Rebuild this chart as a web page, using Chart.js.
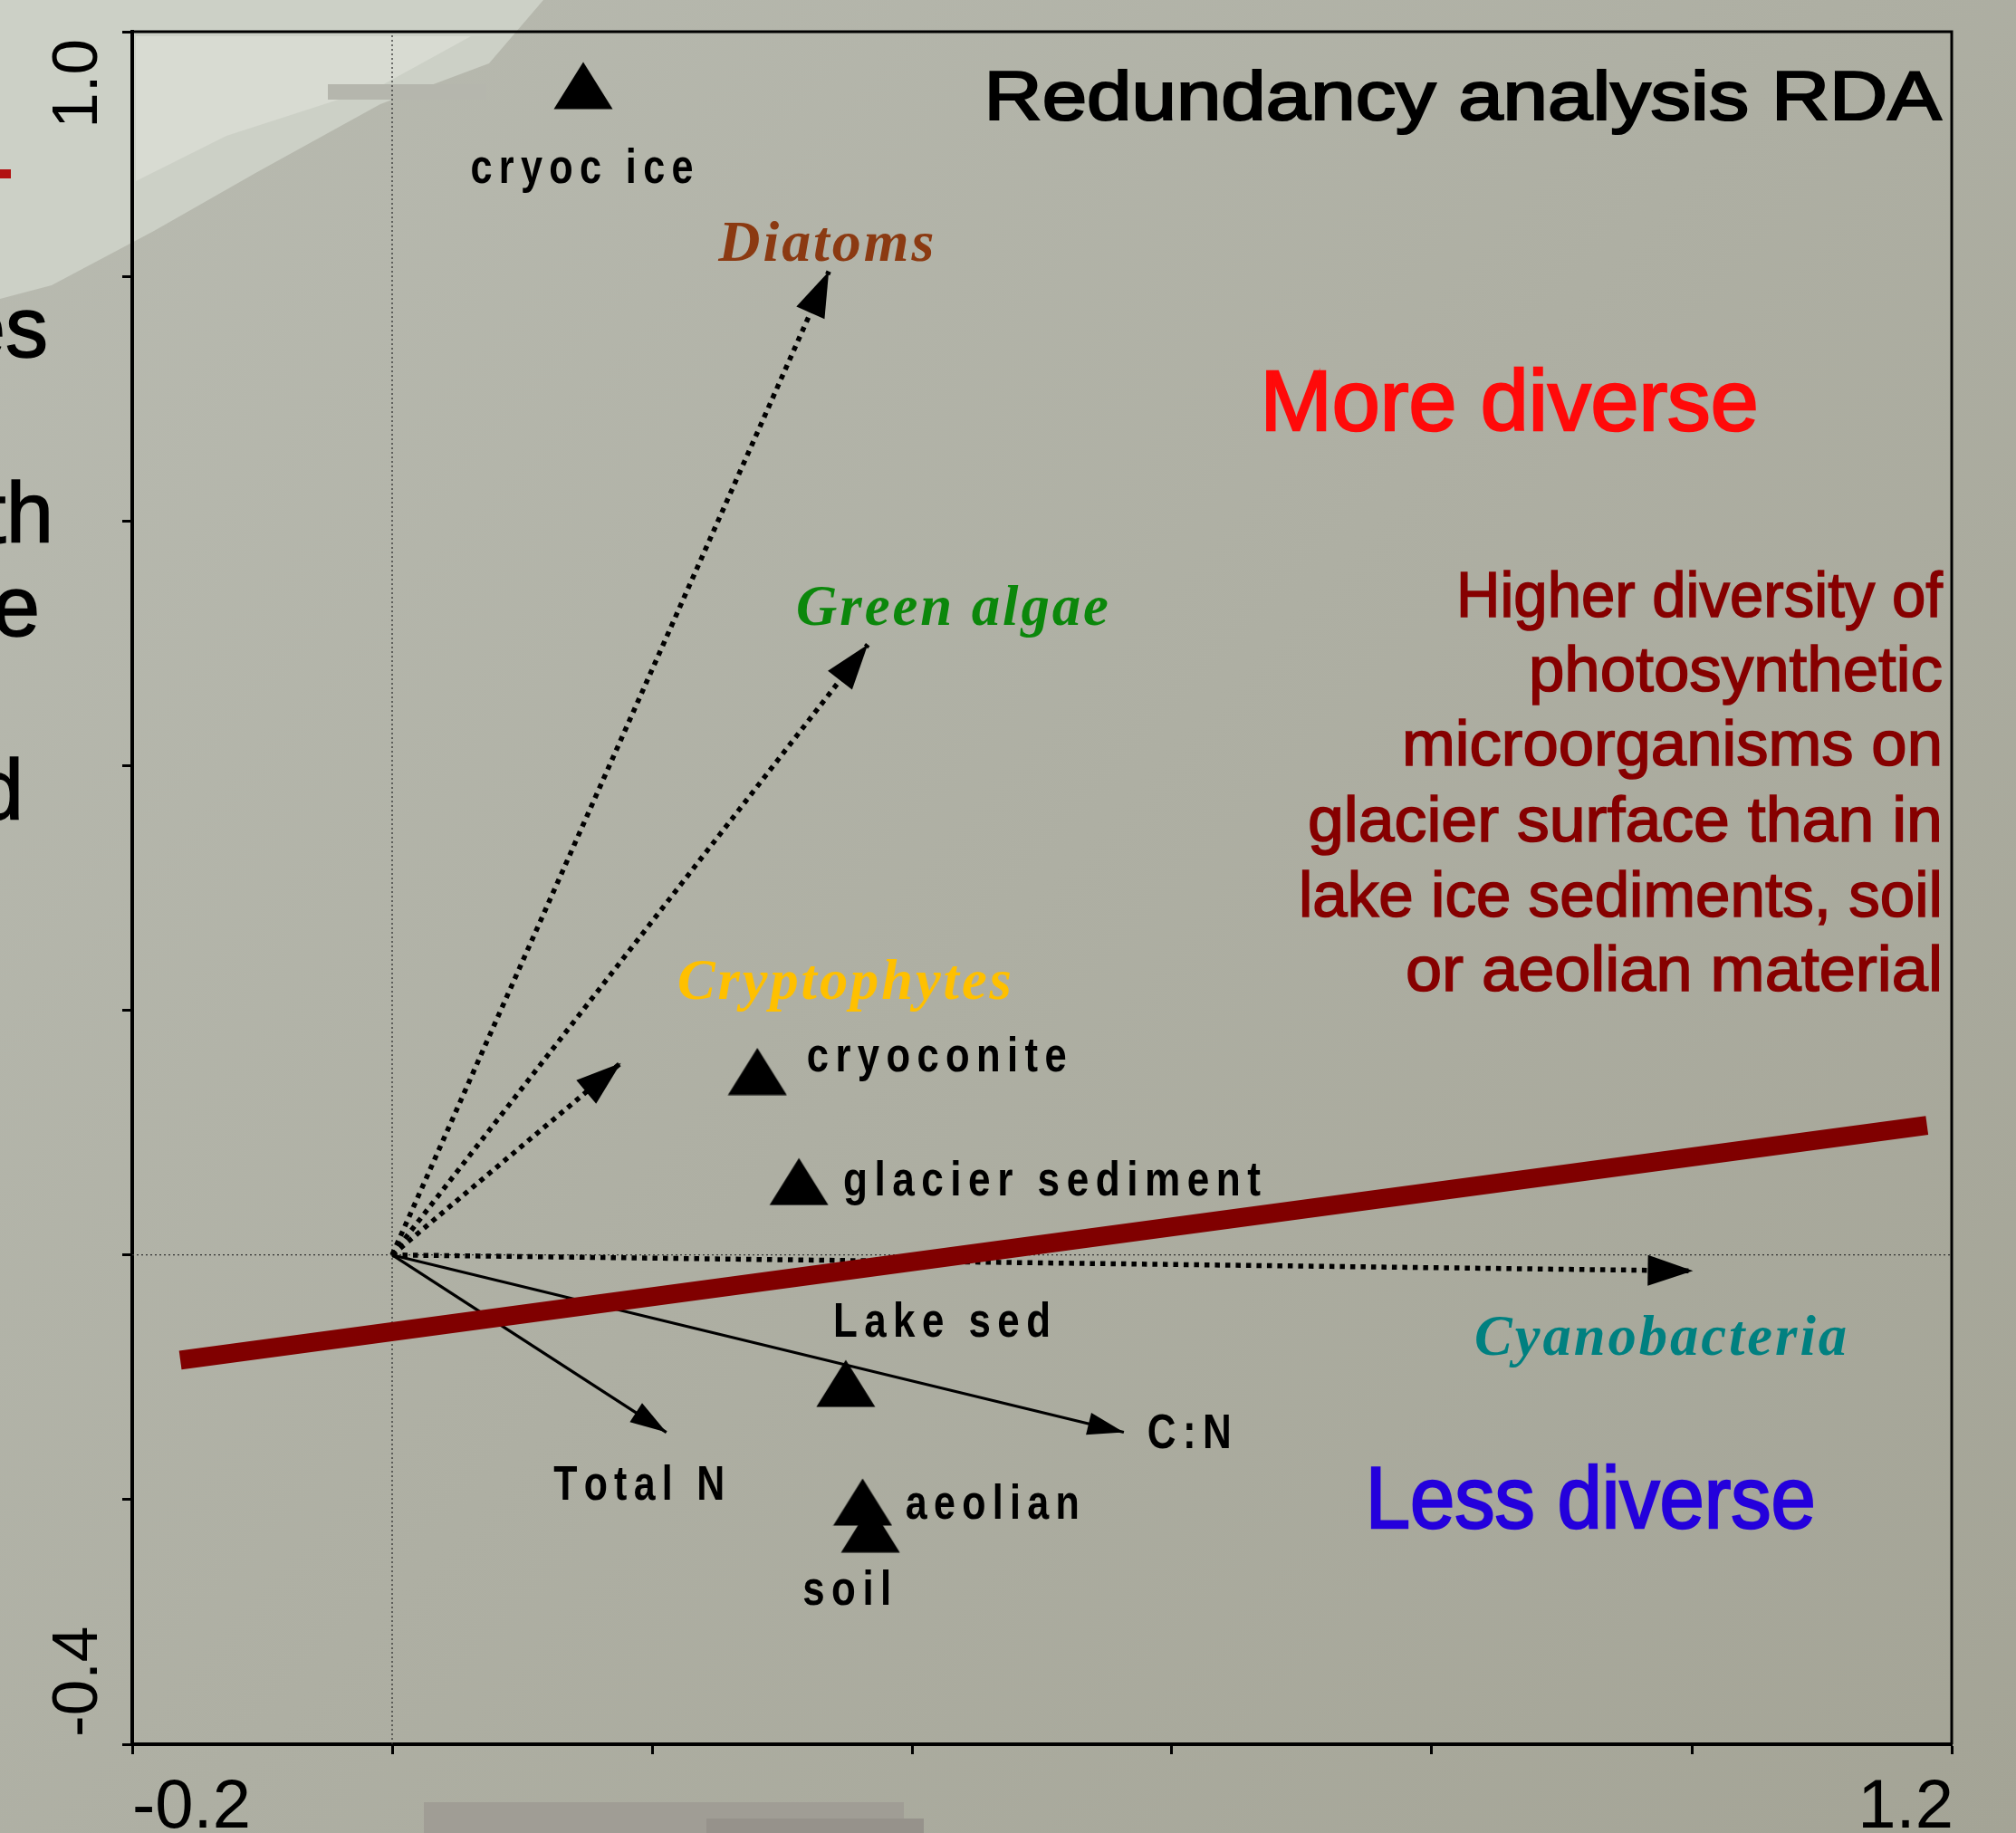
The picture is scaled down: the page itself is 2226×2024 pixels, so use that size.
<!DOCTYPE html>
<html>
<head>
<meta charset="utf-8">
<script src="https://cdn.jsdelivr.net/npm/chart.js@4.4.0/dist/chart.umd.min.js"></script>
<style>
  html, body { margin: 0; padding: 0; background: #aeaea1; overflow: hidden; }
  #rdaChart { display: block; }
</style>
</head>
<body>
<canvas id="rdaChart" width="2226" height="2024"></canvas>
<script>
// tick labels that are printed on the axes
const xTickValues = [-0.2, 1.2];
const xTickLabels = ['-0.2', '1.2'];
const yTickValues = [1.0, -0.4];
const yTickLabels = ['1.0', '-0.4'];

// species arrows (dotted)
const speciesNames = ['Diatoms', 'Green algae', 'Cryptophytes', 'Cyanobacteria'];
const speciesX = [0.336, 0.366, 0.176, 1.001];
const speciesY = [0.804, 0.499, 0.157, -0.013];
const speciesLabelX = [0.334, 0.431, 0.348, 0.976];
const speciesLabelY = [0.813, 0.515, 0.209, -0.082];

// environmental variables (solid arrows)
const envNames = ['Total N', 'C:N'];
const envX = [0.211, 0.563];
const envY = [-0.145, -0.145];
const envLabelX = [0.190, 0.581];
const envLabelY = [-0.200, -0.158];

// samples (triangles)
const sampleNames = ['cryoc ice', 'cryoconite', 'glacier sediment', 'Lake sed', 'soil', 'aeolian'];
const sampleX = [0.147, 0.281, 0.313, 0.349, 0.368, 0.362];
const sampleY = [0.956, 0.150, 0.060, -0.105, -0.224, -0.202];
const sampleLabelX = [0.146, 0.319, 0.347, 0.423, 0.350, 0.395];
const sampleLabelY = [0.876, 0.150, 0.049, -0.067, -0.286, -0.216];

// more / less diverse divide
const divideX = [-0.163, 1.181];
const divideY = [-0.086, 0.106];

// slide text
const titleText = 'Redundancy analysis RDA';
const moreText = 'More diverse';
const lessText = 'Less diverse';
const noteLines = ['Higher diversity of', 'photosynthetic', 'microorganisms on',
  'glacier surface than in', 'lake ice sediments, soil', 'or aeolian material'];
const sideFragments = ['es', 'th', 'e', 'd'];

// ---- styles ----
const SANS = '"Liberation Sans", Arial, sans-serif';
const SERIF = '"Liberation Serif", "Times New Roman", serif';

const speciesColors = ['#8b3a12', '#0b870b', '#ffc000', '#008080'];
const speciesWidths = [238, 345, 369, 411];
const envAlign = ['center', 'left'];
const envWidths = [189, 93];
const sampleAlign = ['center', 'left', 'left', 'center', 'center', 'left'];
const sampleWidths = [246, 287, 461, 240, 98, 192];
const noteWidths = [537, 457, 597, 701, 711, 593];
const noteBaselines = [0.522, 0.461, 0.400, 0.338, 0.277, 0.216];
const fragRight = [53, 59, 44, 26];
const fragBase = [394, 599, 702, 905];

function drawText(ctx, text, x, y, o) {
  ctx.save();
  ctx.font = o.font;
  ctx.fillStyle = o.color || '#000';
  ctx.strokeStyle = o.color || '#000';
  ctx.textBaseline = 'alphabetic';
  ctx.textAlign = 'left';
  const sp = o.spacing || 0;
  const chars = [...text];
  let natural, widths;
  if (sp) {
    widths = chars.map(c => ctx.measureText(c).width);
    natural = widths.reduce((a, b) => a + b, 0) + sp * (chars.length - 1);
  } else {
    natural = ctx.measureText(text).width;
  }
  const sx = o.width ? o.width / natural : 1;
  const total = natural * sx;
  let off = 0;
  if (o.align === 'center') off = -total / 2;
  else if (o.align === 'right') off = -total;
  ctx.translate(x, y);
  if (o.rotate) ctx.rotate(o.rotate);
  ctx.translate(off, 0);
  ctx.scale(sx, 1);
  if (o.weight) ctx.lineWidth = o.weight;
  if (sp) {
    let cx = 0;
    chars.forEach((c, i) => {
      ctx.fillText(c, cx, 0);
      if (o.weight) ctx.strokeText(c, cx, 0);
      cx += widths[i] + sp;
    });
  } else {
    ctx.fillText(text, 0, 0);
    if (o.weight) ctx.strokeText(text, 0, 0);
  }
  ctx.restore();
}

// triangle marker used for the samples
const tri = document.createElement('canvas');
tri.width = 66; tri.height = 53;
(() => {
  const c = tri.getContext('2d');
  c.fillStyle = '#000';
  c.beginPath();
  c.moveTo(0.5, 52.5); c.lineTo(33, 0.5); c.lineTo(65.5, 52.5);
  c.closePath(); c.fill();
})();

const slideBackground = {
  id: 'slideBackground',
  beforeDraw(chart) {
    const {ctx, width, height} = chart;
    ctx.save();
    const g = ctx.createLinearGradient(0, 0, width, height);
    g.addColorStop(0, '#b9bbb1');
    g.addColorStop(0.5, '#aeafa3');
    g.addColorStop(1, '#a4a496');
    ctx.fillStyle = g;
    ctx.fillRect(0, 0, width, height);
    // pale patch top left
    ctx.fillStyle = '#ccd0c6';
    ctx.beginPath();
    ctx.moveTo(0, 0); ctx.lineTo(600, 0); ctx.lineTo(540, 70); ctx.lineTo(420, 115);
    ctx.lineTo(284, 190); ctx.lineTo(170, 255); ctx.lineTo(57, 315); ctx.lineTo(0, 330);
    ctx.closePath(); ctx.fill();
    ctx.fillStyle = '#d8dbd2';
    ctx.beginPath();
    ctx.moveTo(150, 40); ctx.lineTo(520, 40); ctx.lineTo(420, 95); ctx.lineTo(250, 150);
    ctx.lineTo(150, 200); ctx.closePath(); ctx.fill();
    ctx.fillStyle = '#b5b6ad';
    ctx.fillRect(362, 93, 175, 17);
    // smudge under x axis
    ctx.fillStyle = '#a09d95';
    ctx.fillRect(468, 1990, 530, 34);
    ctx.fillStyle = '#96928b';
    ctx.fillRect(780, 2008, 240, 16);
    // red mark from neighbouring slide
    ctx.fillStyle = '#b21010';
    ctx.fillRect(0, 187, 12, 10);
    ctx.restore();
  }
};

const overlay = {
  id: 'overlay',
  afterDatasetsDraw(chart) {
    const {ctx, chartArea: a, scales: {x, y}} = chart;
    // arrow heads
    chart.data.datasets.forEach((ds, i) => {
      if (!ds.arrowHead) return;
      const pts = chart.getDatasetMeta(i).data;
      const p0 = pts[0], p1 = pts[1];
      const ang = Math.atan2(p1.y - p0.y, p1.x - p0.x);
      const L = ds.arrowHead[0], H = ds.arrowHead[1];
      const bx = p1.x - L * Math.cos(ang), by = p1.y - L * Math.sin(ang);
      ctx.save();
      ctx.fillStyle = '#000';
      ctx.beginPath();
      ctx.moveTo(p1.x, p1.y);
      ctx.lineTo(bx - H * Math.sin(ang), by + H * Math.cos(ang));
      ctx.lineTo(bx + H * Math.sin(ang), by - H * Math.cos(ang));
      ctx.closePath(); ctx.fill();
      ctx.restore();
    });

    // species labels
    speciesNames.forEach((n, i) => drawText(ctx, n,
      x.getPixelForValue(speciesLabelX[i]), y.getPixelForValue(speciesLabelY[i]),
      {font: 'italic bold 64px ' + SERIF, color: speciesColors[i], spacing: 3, align: 'center', width: speciesWidths[i]}));
    // env labels
    envNames.forEach((n, i) => drawText(ctx, n,
      x.getPixelForValue(envLabelX[i]), y.getPixelForValue(envLabelY[i]),
      {font: 'bold 53px ' + SANS, spacing: 9, align: envAlign[i], width: envWidths[i]}));
    // sample labels
    sampleNames.forEach((n, i) => drawText(ctx, n,
      x.getPixelForValue(sampleLabelX[i]), y.getPixelForValue(sampleLabelY[i]),
      {font: 'bold 53px ' + SANS, spacing: 9, align: sampleAlign[i], width: sampleWidths[i]}));

    // slide annotations
    drawText(ctx, titleText, x.getPixelForValue(1.192), y.getPixelForValue(0.928),
      {font: '76px ' + SANS, align: 'right', width: 1057, weight: 2.2});
    drawText(ctx, moreText, x.getPixelForValue(0.668), y.getPixelForValue(0.674),
      {font: '95px ' + SANS, color: '#ff0a0a', width: 550, weight: 2.5});
    drawText(ctx, lessText, x.getPixelForValue(0.749), y.getPixelForValue(-0.223),
      {font: '97px ' + SANS, color: '#2400dc', width: 497, weight: 2.5});
    noteLines.forEach((t, i) => drawText(ctx, t, x.getPixelForValue(1.193), y.getPixelForValue(noteBaselines[i]),
      {font: '71px ' + SANS, color: '#860000', align: 'right', width: noteWidths[i], weight: 1.6}));

    // frame top / right
    ctx.save();
    ctx.strokeStyle = '#000';
    ctx.lineWidth = 3;
    ctx.beginPath();
    ctx.moveTo(a.left, a.top); ctx.lineTo(a.right, a.top); ctx.lineTo(a.right, a.bottom);
    ctx.stroke();
    ctx.restore();
  },
  afterDraw(chart) {
    const {ctx, chartArea: a, scales: {x, y}} = chart;
    xTickValues.forEach((v, i) => {
      const px = x.getPixelForValue(v);
      drawText(ctx, xTickLabels[i], i === 0 ? px : px + 2, a.bottom + 92,
        {font: '76px ' + SANS, align: i === 0 ? 'left' : 'right'});
    });
    yTickValues.forEach((v, i) => {
      const py = y.getPixelForValue(v);
      const top = py < (a.top + a.bottom) / 2;
      drawText(ctx, yTickLabels[i], a.left - 39, top ? py + 8 : py - 8,
        {font: '71px ' + SANS, align: top ? 'right' : 'left', rotate: -Math.PI / 2});
    });
    sideFragments.forEach((t, i) => drawText(ctx, t, fragRight[i], fragBase[i],
      {font: '94px ' + SANS, align: 'right', weight: 1.5}));
  }
};

const lineSet = (xs, ys, extra) => Object.assign({
  data: xs.map((v, i) => ({x: v, y: ys[i]})),
  showLine: true,
  pointRadius: 0,
  fill: false,
  borderCapStyle: 'butt'
}, extra);

const datasets = [
  lineSet(divideX, divideY, {borderColor: '#800000', borderWidth: 21})
];
speciesNames.forEach((n, i) => datasets.push(lineSet([0, speciesX[i]], [0, speciesY[i]],
  {label: n, borderColor: '#000', borderWidth: 5.5, borderDash: [5.5, 6], arrowHead: [50, 17]})));
envNames.forEach((n, i) => datasets.push(lineSet([0, envX[i]], [0, envY[i]],
  {label: n, borderColor: '#000', borderWidth: 3.2, arrowHead: [40, 12.5]})));
datasets.push({
  label: 'samples',
  data: sampleX.map((v, i) => ({x: v, y: sampleY[i]})),
  pointStyle: tri,
  pointRadius: 20,
  pointHoverRadius: 20
});
datasets.push(lineSet([-0.2, 1.2], [0, 0], {borderColor: '#333', borderWidth: 1.3, borderDash: [2, 3]}));
datasets.push(lineSet([0, 0], [-0.4, 1.0], {borderColor: '#333', borderWidth: 1.3, borderDash: [2, 3]}));

const ctx = document.getElementById('rdaChart').getContext('2d');
const rdaChart = new Chart(ctx, {
  type: 'scatter',
  data: {datasets: datasets},
  options: {
    responsive: false,
    animation: false,
    devicePixelRatio: 1,
    layout: {padding: {left: 135, top: 35, right: 71, bottom: 87}},
    plugins: {legend: {display: false}, tooltip: {enabled: false}},
    scales: {
      x: {
        min: -0.2, max: 1.2,
        ticks: {stepSize: 0.2, display: false},
        grid: {drawOnChartArea: false, drawTicks: true, tickLength: 11, tickColor: '#000', tickWidth: 3},
        border: {display: true, color: '#000', width: 4}
      },
      y: {
        min: -0.4, max: 1.0,
        ticks: {stepSize: 0.2, display: false},
        grid: {drawOnChartArea: false, drawTicks: true, tickLength: 11, tickColor: '#000', tickWidth: 3},
        border: {display: true, color: '#000', width: 4}
      }
    }
  },
  plugins: [slideBackground, overlay]
});
</script>
</body>
</html>
